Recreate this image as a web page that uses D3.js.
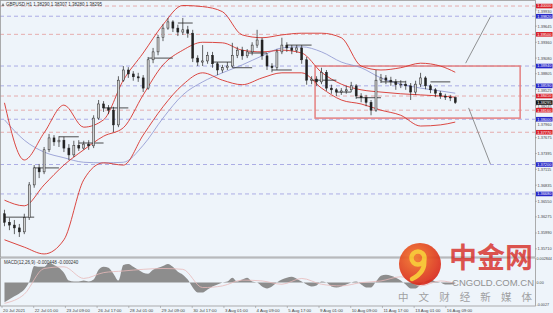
<!DOCTYPE html>
<html>
<head>
<meta charset="utf-8">
<script src="https://cdn.jsdelivr.net/npm/d3@7"></script>
<style>
  body { margin: 0; background: #fff; }
  svg { display: block; font-family: "Liberation Sans", Arial, sans-serif; }
</style>
</head>
<body>
<svg width="553" height="313"></svg>
<script>
// GBPUSD H1, one bar here = 5 hours
const firstOpen = 1.3633;
const closes = [
  1.3618,1.3613,1.3608,1.3601,1.3626,1.3684,1.3714,1.3707,1.3746,1.3767,
  1.3760,1.3763,1.3749,1.3737,1.3754,1.3749,1.3756,1.3753,1.3802,1.3827,
  1.3820,1.3816,1.3790,1.3869,1.3887,1.3880,1.3875,1.3873,1.3855,1.3905,
  1.3919,1.3944,1.3961,1.3972,1.3961,1.3954,1.3958,1.3952,1.3908,1.3901,
  1.3903,1.3913,1.3898,1.3887,1.3891,1.3894,1.3913,1.3922,1.3912,1.3919,
  1.3931,1.3940,1.3912,1.3894,1.3891,1.3919,1.3931,1.3926,1.3922,1.3926,
  1.3905,1.3869,1.3871,1.3866,1.3883,1.3855,1.3852,1.3848,1.3850,1.3852,
  1.3859,1.3841,1.3838,1.3830,1.3816,1.3869,1.3873,1.3869,1.3866,1.3861,
  1.3862,1.3859,1.3848,1.3862,1.3873,1.3859,1.3852,1.3846,1.3841,1.3839,
  1.3838,1.38295
];
const highs = [
  1.3640,1.3626,1.3622,1.3615,1.3633,1.3689,1.3719,1.3721,1.3751,1.3774,
  1.3772,1.3770,1.3769,1.3756,1.3762,1.3763,1.3762,1.3763,1.3807,1.3834,
  1.3832,1.3825,1.3822,1.3876,1.3894,1.3892,1.3885,1.3882,1.3878,1.3910,
  1.3926,1.3949,1.3968,1.3979,1.3975,1.3967,1.3979,1.3965,1.3958,1.3913,
  1.3931,1.3919,1.3919,1.3901,1.3896,1.3901,1.3935,1.3928,1.3928,1.3924,
  1.3936,1.3958,1.3944,1.3917,1.3899,1.3924,1.3944,1.3936,1.3931,1.3931,
  1.3931,1.3910,1.3876,1.3876,1.3891,1.3887,1.3861,1.3855,1.3855,1.3859,
  1.3866,1.3862,1.3846,1.3843,1.3834,1.3887,1.3880,1.3878,1.3875,1.3871,
  1.3869,1.3868,1.3864,1.3868,1.3882,1.3876,1.3862,1.3855,1.3850,1.3845,
  1.3843,1.3840
];
const lows = [
  1.3611,1.3604,1.3597,1.3592,1.3597,1.3622,1.3679,1.3696,1.3703,1.3742,
  1.3753,1.3751,1.3742,1.3728,1.3733,1.3744,1.3746,1.3746,1.3749,1.3799,
  1.3813,1.3809,1.3777,1.3786,1.3866,1.3873,1.3868,1.3866,1.3848,1.3852,
  1.3899,1.3913,1.3938,1.3958,1.3954,1.3947,1.3949,1.3944,1.3901,1.3894,
  1.3894,1.3898,1.3891,1.3878,1.3882,1.3887,1.3891,1.3908,1.3905,1.3908,
  1.3913,1.3926,1.3905,1.3887,1.3883,1.3887,1.3915,1.3919,1.3915,1.3917,
  1.3898,1.3861,1.3862,1.3859,1.3862,1.3850,1.3845,1.3841,1.3843,1.3845,
  1.3848,1.3836,1.3830,1.3823,1.3807,1.3813,1.3864,1.3862,1.3859,1.3852,
  1.3855,1.3852,1.3834,1.3843,1.3857,1.3853,1.3846,1.3839,1.3836,1.3834,
  1.3832,1.3827
];

// bands and slow MA, sampled every 4 bars (+ last bar)
const bbUpper = [1.3829,1.3728,1.3776,1.3825,1.3786,1.3799,1.3869,1.3917,1.3967,1.4001,1.3999,1.3990,
                 1.3949,1.3944,1.3949,1.3952,1.3952,1.3944,1.3894,1.3887,1.3891,1.3899,1.3894,1.3883];
const bbMiddle = [1.3657,1.3647,1.3684,1.3719,1.3746,1.3770,1.3785,1.3843,1.3896,1.3922,1.3936,1.3935,
                  1.3922,1.3919,1.3922,1.3917,1.3883,1.3862,1.3852,1.3848,1.3845,1.3843,1.3841,1.3839];
const bbLower = [1.3587,1.3574,1.3562,1.3587,1.3693,1.3723,1.3719,1.3772,1.3822,1.3861,1.3882,1.3869,
                 1.3861,1.3873,1.3882,1.3882,1.3855,1.3834,1.3827,1.3816,1.3807,1.3788,1.3790,1.3795];
const slowMA = [1.3799,1.3763,1.3742,1.3732,1.3724,1.3723,1.3724,1.3754,1.3802,1.3843,1.3866,1.3882,
                1.3896,1.3912,1.3926,1.3928,1.3919,1.3901,1.3891,1.3873,1.3862,1.3855,1.3850,1.3846];

const macdHist = [
  -0.00237,-0.00201,-0.00166,-0.0013,-0.00083,0.0001,0.00201,0.0019,0.0019,0.00237,
  0.00213,0.00178,0.00119,0.00024,0.00012,0.00012,0.00024,0.00012,0.00036,0.00154,
  0.0019,0.00178,0.00107,0.00024,0.00213,0.00225,0.0019,0.00154,0.00119,0.00107,
  0.00154,0.00178,0.00201,0.00225,0.0019,0.0013,0.00095,0.00036,-0.00059,-0.00119,
  -0.00119,-0.00083,-0.00047,-0.00024,0,0.00012,0.00059,0.00012,0.00036,0.00059,
  0.00012,0,-0.00047,-0.00071,-0.00047,0,0.00036,0.00059,0.00071,0.00047,
  0.00012,-0.00024,-0.00047,-0.00036,0.00012,0,-0.00047,-0.00059,-0.00047,-0.00024,
  0,0.00012,-0.00024,-0.00059,-0.00059,0.00012,0.00083,0.00095,0.00083,0.00059,
  0.00024,-0.00024,-0.00071,-0.00071,-0.00024,0.00012,0.00036,0.00012,0,-0.00024,
  -0.00024,-0.00012
];
const macdSignal = [-0.0025,-0.0014,0.0017,0.0019,0.0005,0.0012,0.0014,0.0016,0.0017,0.0016,-0.0006,-0.0004,
                    0.0003,0.0002,-0.0002,0.0005,-0.0002,-0.0004,0,0.0002,0.0007,-0.0004,0.0002,-0.0001];

// daily pivot segments: [fromBar, toBar, price]
const pivots = [[0,6,1.3627],[6,11,1.3714],[11,15,1.3769],[15,20,1.3758],[20,25,1.3820],[29,34,1.3908],
  [35,38,1.3970],[42,46,1.3901],[46,50,1.3891],[49,53,1.3917],[54,58,1.3887],[57,62,1.3931],
  [62,67,1.3869],[67,70,1.3848],[71,76,1.3838],[76,81,1.3866],[86,90,1.3866]];

const redLevels = [1.4000, 1.3950, 1.3841, 1.3816, 1.3777];
const blueLevels = [1.3982, 1.3894, 1.3859, 1.3800, 1.3720, 1.3668];
const lastPrice = 1.38295;

const priceTicks = ["1.39930","1.39645","1.39360","1.39080","1.38805","1.38525","1.38245","1.37960",
  "1.37675","1.37395","1.37115","1.36835","1.36550","1.36275","1.35990","1.35710"];
const macdTicks = [["0.002844", 0.002844], ["0.00", 0], ["-0.0027", -0.0027]];
const timeTicks = ["20 Jul 2021","22 Jul 01:00","23 Jul 09:00","26 Jul 17:00","28 Jul 01:00","29 Jul 09:00",
  "30 Jul 17:00","3 Aug 01:00","4 Aug 09:00","5 Aug 17:00","9 Aug 01:00","10 Aug 09:00","11 Aug 17:00",
  "13 Aug 01:00","16 Aug 09:00"];

// box zone (hours, prices) and the two projection lines
const zoneHours = [316, 523], zonePrices = [1.3894, 1.3802];
const projUp = [[468, 1.3899], [493, 1.3981]];
const projDown = [[471, 1.3820], [493, 1.3721]];

const bars = closes.map((c, i) => ({
  i, c, h: highs[i], l: lows[i], o: i === 0 ? firstOpen : closes[i - 1]
}));
const sampleBars = [...d3.range(0, 92, 4), 91];

const svg = d3.select("svg");
const plotR = 535, mainTop = 1, mainBot = 257, macdTop = 258, macdBot = 306;

const x = d3.scaleLinear().domain([0, 538]).range([2, plotR]);
const xb = i => x(i * 5 + 2.5);
const y = d3.scaleLinear().domain([1.39930, 1.35990]).range([10, 233]);
const ym = d3.scaleLinear().domain([0.002844, -0.0027]).range([259, 305]);

// backgrounds
svg.append("rect").attr("width", 553).attr("height", 313).attr("fill", "#eef4fa");

const defs = svg.append("defs");
defs.append("clipPath").attr("id", "cm").append("rect")
  .attr("x", 0).attr("y", mainTop).attr("width", plotR).attr("height", mainBot - mainTop);
defs.append("clipPath").attr("id", "cd").append("rect")
  .attr("x", 0).attr("y", macdTop).attr("width", plotR).attr("height", macdBot - macdTop);
const grad = defs.append("radialGradient").attr("id", "lg").attr("cx", "40%").attr("cy", "35%").attr("r", "70%");
grad.append("stop").attr("offset", "0%").attr("stop-color", "#f47a2a");
grad.append("stop").attr("offset", "100%").attr("stop-color", "#d8261c");

const main = svg.append("g").attr("clip-path", "url(#cm)");

// dashed levels
main.selectAll(".rl").data(redLevels).join("line")
  .attr("x1", 0).attr("x2", plotR).attr("y1", d => y(d)).attr("y2", d => y(d))
  .attr("stroke", "#e39a9a").attr("stroke-width", 0.8).attr("stroke-dasharray", "4,3");
main.selectAll(".bl").data(blueLevels).join("line")
  .attr("x1", 0).attr("x2", plotR).attr("y1", d => y(d)).attr("y2", d => y(d))
  .attr("stroke", "#9a9ae0").attr("stroke-width", 0.8).attr("stroke-dasharray", "4,3");

// zone box
main.append("rect")
  .attr("x", x(zoneHours[0])).attr("y", y(zonePrices[0]))
  .attr("width", x(zoneHours[1]) - x(zoneHours[0]))
  .attr("height", y(zonePrices[1]) - y(zonePrices[0]))
  .attr("fill", "none").attr("stroke", "#e58080").attr("stroke-width", 1.5);

// projections
[projUp, projDown].forEach(p => {
  main.append("line")
    .attr("x1", x(p[0][0])).attr("y1", y(p[0][1]))
    .attr("x2", x(p[1][0])).attr("y2", y(p[1][1]))
    .attr("stroke", "#666").attr("stroke-width", 0.7);
});

// bands + slow MA
const bandLine = d3.line().x((d, k) => xb(sampleBars[k])).y(d => y(d)).curve(d3.curveMonotoneX);
main.append("path").attr("d", bandLine(slowMA)).attr("fill", "none")
  .attr("stroke", "#8b93cf").attr("stroke-width", 0.8);
[bbUpper, bbMiddle, bbLower].forEach(b => {
  main.append("path").attr("d", bandLine(b)).attr("fill", "none")
    .attr("stroke", "#d8332c").attr("stroke-width", 0.9);
});

// pivots
main.selectAll(".pv").data(pivots).join("line")
  .attr("x1", d => xb(d[0])).attr("x2", d => xb(d[1]))
  .attr("y1", d => y(d[2])).attr("y2", d => y(d[2]))
  .attr("stroke", "#222").attr("stroke-width", 0.8);

// candles
const cg = main.append("g").selectAll("g").data(bars).join("g");
cg.append("line")
  .attr("x1", d => xb(d.i)).attr("x2", d => xb(d.i))
  .attr("y1", d => y(d.h)).attr("y2", d => y(d.l))
  .attr("stroke", "#222").attr("stroke-width", 0.7);
cg.append("rect")
  .attr("x", d => xb(d.i) - 1).attr("width", 2)
  .attr("y", d => y(Math.max(d.o, d.c)))
  .attr("height", d => Math.max(0.8, Math.abs(y(d.o) - y(d.c))))
  .attr("fill", d => d.c >= d.o ? "#d0d0d0" : "#222")
  .attr("stroke", "#222").attr("stroke-width", 0.5);

// MACD
const macd = svg.append("g").attr("clip-path", "url(#cd)");
macd.append("path")
  .attr("d", d3.area().x((d, i) => xb(i)).y0(ym(0)).y1(d => ym(d)).curve(d3.curveMonotoneX)(macdHist))
  .attr("fill", "#8d8d8d");
macd.append("path").attr("d", d3.line().x((d, k) => xb(sampleBars[k])).y(d => ym(d)).curve(d3.curveMonotoneX)(macdSignal))
  .attr("fill", "none").attr("stroke", "#e7b9b9").attr("stroke-width", 0.8);
svg.append("text").attr("x", 4).attr("y", 264).attr("font-size", 4.5).attr("fill", "#333")
  .text("MACD(12,26,9) -0.000448 -0.000240");

// frame
const frame = svg.append("g").attr("stroke", "#9a9a9a").attr("stroke-width", 0.8).attr("fill", "none");
frame.append("rect").attr("x", 0.5).attr("y", 0.5).attr("width", plotR).attr("height", mainBot - 0.5);
frame.append("rect").attr("x", 0.5).attr("y", macdTop).attr("width", plotR).attr("height", macdBot - macdTop);

// title
svg.append("text").attr("x", 6).attr("y", 6).attr("font-size", 4.5).attr("fill", "#333")
  .text("GBPUSD,H1  1.38290 1.38307 1.38280 1.38295");
svg.append("path").attr("d", "M1.5,6 L3,3 L4.5,6 Z").attr("fill", "#777");

// price axis
const tagH = 4.6;
const tagYs = [...redLevels, ...blueLevels, lastPrice].map(p => y(p)).sort((a, b) => a - b);
const labelY = v => {
  const ly = y(v);
  const hit = tagYs.findIndex(t => Math.abs(ly - t) < 5);
  if (hit < 0) return ly;
  const t = tagYs[hit];
  if (ly >= t) {
    const next = tagYs[hit + 1];
    return next !== undefined && next - t < 12 ? (t + next) / 2 : t + 5.5;
  }
  const prev = tagYs[hit - 1];
  return prev !== undefined && t - prev < 12 ? (t + prev) / 2 : t - 5.5;
};
const pa = svg.append("g");
pa.selectAll("line").data(priceTicks).join("line")
  .attr("x1", plotR).attr("x2", plotR + 2).attr("y1", d => y(+d)).attr("y2", d => y(+d))
  .attr("stroke", "#888").attr("stroke-width", 0.5);
pa.selectAll("text").data(priceTicks).join("text")
  .attr("x", plotR + 2.5).attr("y", d => labelY(+d) + 1.4)
  .attr("font-size", 3.9).attr("fill", "#444").text(d => d);

const tag = (p, col) => {
  const g = pa.append("g").attr("transform", `translate(${plotR + 1},${y(p)})`);
  g.append("rect").attr("x", 0).attr("y", -tagH / 2).attr("width", 16.5).attr("height", tagH).attr("fill", col);
  g.append("text").attr("x", 1.3).attr("y", 1.4).attr("font-size", 3.9).attr("fill", "#fff")
    .text(d3.format(".5f")(p));
};
redLevels.forEach(p => tag(p, "#d8202a"));
blueLevels.forEach(p => tag(p, "#2828c8"));
tag(lastPrice, "#111");

// MACD axis
svg.selectAll(".mt").data(macdTicks).join("text")
  .attr("x", plotR + 1.5).attr("y", d => ym(d[1]) + 1.4)
  .attr("font-size", 3.7).attr("fill", "#444").text(d => d[0]);

// time axis
const ta = svg.append("g");
ta.selectAll("line").data(timeTicks).join("line")
  .attr("x1", (d, i) => x(i * 32)).attr("x2", (d, i) => x(i * 32))
  .attr("y1", macdBot).attr("y2", macdBot + 2).attr("stroke", "#888").attr("stroke-width", 0.5);
ta.selectAll("text").data(timeTicks).join("text")
  .attr("x", (d, i) => x(i * 32) + 1).attr("y", 311.5)
  .attr("font-size", 4.3).attr("fill", "#444").text(d => d);

// watermark
const wm = svg.append("g").attr("opacity", 0.92);
wm.append("circle").attr("cx", 420).attr("cy", 264).attr("r", 21).attr("fill", "url(#lg)");
wm.append("circle").attr("cx", 418).attr("cy", 258).attr("r", 6.5)
  .attr("fill", "none").attr("stroke", "#f8c22a").attr("stroke-width", 4.5);
wm.append("path").attr("d", "M424,259 Q426,272 412,279")
  .attr("fill", "none").attr("stroke", "#f8c22a").attr("stroke-width", 4.5).attr("stroke-linecap", "round");
wm.append("text").attr("x", 449).attr("y", 268)
  .attr("font-family", "'Noto Sans CJK SC'").attr("font-weight", "bold").attr("font-size", 28)
  .attr("fill", "#d7261e").attr("fill-opacity", 0.85).text("中金网");
wm.append("text").attr("x", 452).attr("y", 285.5)
  .attr("font-size", 9.5).attr("fill", "#8a8a8a").attr("textLength", 82).text("CNGOLD.COM.CN");
wm.append("text").attr("x", 398).attr("y", 301)
  .attr("font-family", "'Noto Sans CJK SC'").attr("font-size", 10.5).attr("fill", "#9a9a9a")
  .attr("textLength", 134).text("中文财经新媒体");
</script>
</body>
</html>
